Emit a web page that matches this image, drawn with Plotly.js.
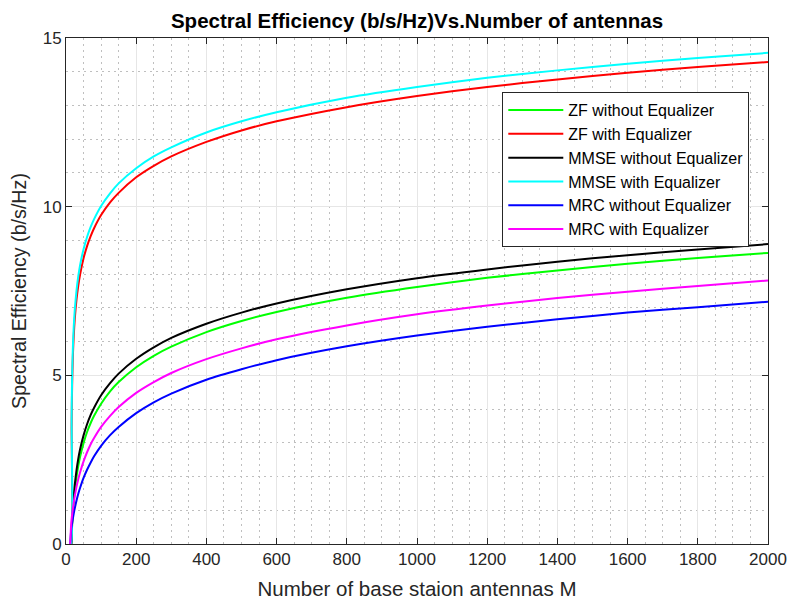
<!DOCTYPE html>
<html>
<head>
<meta charset="utf-8">
<script src="https://cdn.plot.ly/plotly-3.0.1.min.js"></script>
<style>
  html, body { margin: 0; padding: 0; background: #fff; }
  #chart { width: 790px; height: 601px; }
</style>
</head>
<body>
<div id="chart"></div>
<script>
// Number of base station antennas M
const antennas = [12, 15, 16, 17, 18, 20, 22, 25, 30, 35, 40, 50, 60, 70, 80, 100, 125, 150, 200, 250, 300, 400, 500, 600, 800, 1000, 1200, 1400, 1600, 1800, 2000];

// Spectral efficiency (b/s/Hz) per detector
const zfWithout   = [0, 0, 0.26, 0.48, 0.68, 1.00, 1.26, 1.58, 1.99, 2.32, 2.58, 2.99, 3.32, 3.58, 3.80, 4.16, 4.52, 4.80, 5.24, 5.58, 5.85, 6.28, 6.61, 6.88, 7.30, 7.62, 7.89, 8.11, 8.31, 8.48, 8.63];
const zfWith      = [0, 0, 3.47, 4.40, 4.97, 5.69, 6.16, 6.67, 7.25, 7.66, 7.98, 8.47, 8.83, 9.12, 9.36, 9.75, 10.12, 10.41, 10.87, 11.21, 11.49, 11.92, 12.26, 12.53, 12.95, 13.28, 13.55, 13.77, 13.97, 14.14, 14.29];
const mmseWithout = [0, 0, 0.31, 0.56, 0.78, 1.13, 1.41, 1.76, 2.19, 2.53, 2.80, 3.22, 3.55, 3.82, 4.04, 4.41, 4.76, 5.05, 5.49, 5.83, 6.11, 6.53, 6.86, 7.13, 7.55, 7.88, 8.14, 8.37, 8.56, 8.73, 8.89];
const mmseWith    = [0, 0, 3.72, 4.67, 5.23, 5.95, 6.43, 6.94, 7.52, 7.94, 8.26, 8.74, 9.10, 9.39, 9.63, 10.02, 10.39, 10.69, 11.14, 11.49, 11.76, 12.20, 12.53, 12.80, 13.23, 13.55, 13.82, 14.04, 14.24, 14.41, 14.56];
const mrcWithout  = [0, 0.44, 0.52, 0.59, 0.66, 0.78, 0.90, 1.06, 1.29, 1.49, 1.66, 1.96, 2.20, 2.41, 2.60, 2.91, 3.22, 3.47, 3.88, 4.20, 4.46, 4.87, 5.18, 5.45, 5.86, 6.18, 6.44, 6.66, 6.86, 7.02, 7.18];
const mrcWith     = [0, 0.64, 0.74, 0.84, 0.92, 1.08, 1.23, 1.42, 1.70, 1.93, 2.12, 2.45, 2.72, 2.95, 3.14, 3.47, 3.79, 4.06, 4.48, 4.80, 5.07, 5.48, 5.80, 6.07, 6.48, 6.81, 7.07, 7.29, 7.48, 7.65, 7.81];

const seriesNames = ['ZF without Equalizer', 'ZF with Equalizer', 'MMSE without Equalizer', 'MMSE with Equalizer', 'MRC without Equalizer', 'MRC with Equalizer'];
const seriesColors = ['#00ff00', '#ff0000', '#000000', '#00ffff', '#0000ff', '#ff00ff'];
const seriesValues = [zfWithout, zfWith, mmseWithout, mmseWith, mrcWithout, mrcWith];

const xTicks = [0, 200, 400, 600, 800, 1000, 1200, 1400, 1600, 1800, 2000];
const yTicks = [0, 5, 10, 15];

const FONT = 'Liberation Sans, Arial, Helvetica, sans-serif';
const AXIS_COLOR = '#262626';

const traces = seriesValues.map((vals, i) => ({
  type: 'scatter',
  mode: 'lines',
  x: antennas,
  y: vals,
  name: seriesNames[i],
  line: { color: seriesColors[i], width: 2, shape: 'spline', smoothing: 0.6 }
}));

const axisCommon = {
  showline: true,
  linecolor: AXIS_COLOR,
  linewidth: 1,
  mirror: 'ticks',
  ticks: 'inside',
  ticklen: 6,
  tickwidth: 1,
  tickcolor: AXIS_COLOR,
  showgrid: true,
  gridcolor: '#e6e6e6',
  gridwidth: 1,
  zeroline: false,
  tickfont: { family: FONT, size: 17, color: AXIS_COLOR }
};

const minorGrid = { showgrid: true, gridcolor: '#bfbfbf', griddash: '2px,4px', gridwidth: 1, ticks: '' };

const layout = {
  width: 790,
  height: 601,
  paper_bgcolor: '#ffffff',
  plot_bgcolor: '#ffffff',
  margin: { l: 66, r: 22, t: 38, b: 57 },
  showlegend: true,
  title: {
    text: '<b>Spectral Efficiency (b/s/Hz)Vs.Number of antennas</b>',
    font: { family: FONT, size: 20.5, color: '#000000' },
    x: 0.5, xanchor: 'center', xref: 'paper',
    y: 0.966, yanchor: 'middle', yref: 'container'
  },
  xaxis: Object.assign({}, axisCommon, {
    range: [0, 2000],
    tickmode: 'array',
    tickvals: xTicks,
    ticktext: xTicks.map(String),
    minor: Object.assign({ dtick: 50, tick0: 0 }, minorGrid),
    title: { text: 'Number of base staion antennas M', font: { family: FONT, size: 20.5, color: AXIS_COLOR }, standoff: 13 }
  }),
  yaxis: Object.assign({}, axisCommon, {
    range: [0, 15],
    tickmode: 'array',
    tickvals: yTicks,
    ticktext: yTicks.map(String),
    minor: Object.assign({ dtick: 1, tick0: 0 }, minorGrid),
    title: { text: 'Spectral Efficiency (b/s/Hz)', font: { family: FONT, size: 19.7, color: AXIS_COLOR }, standoff: 10 }
  }),
  legend: {
    x: 0.6215, xanchor: 'left',
    y: 0.893, yanchor: 'top',
    bgcolor: '#ffffff',
    bordercolor: '#262626',
    borderwidth: 1,
    font: { family: FONT, size: 16, color: '#000000' },
    itemwidth: 55,
    tracegroupgap: 0
  }
};

Plotly.newPlot('chart', traces, layout, { staticPlot: true, displayModeBar: false });
</script>
</body>
</html>
